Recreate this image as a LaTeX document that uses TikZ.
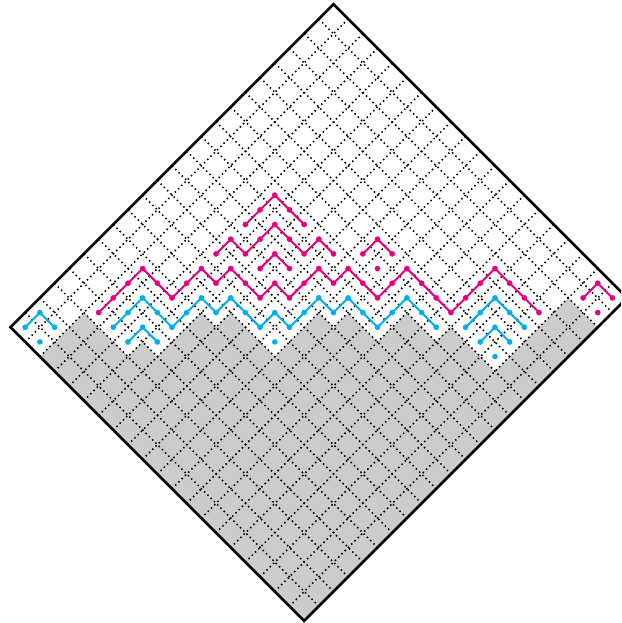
\documentclass[tikz,border=0pt]{standalone}
\definecolor{mag}{RGB}{230,0,126}
\definecolor{cya}{RGB}{0,174,239}
\definecolor{grayfill}{RGB}{204,204,204}
\tikzset{
  gridline/.style={line width=1.6pt, dash pattern=on 1.5pt off 3.1pt},
  frameline/.style={line width=2.6pt, line join=miter},
  magpath/.style={mag, line width=2pt, mark=*, mark size=2.6pt, mark options={line width=0.4pt}},
  cyapath/.style={cya, line width=2pt, mark=*, mark size=2.6pt, mark options={line width=0.4pt}},
}
\begin{document}
\begin{tikzpicture}
\useasboundingbox (0,0) rectangle (621pt,623pt);
\clip (0,0) rectangle (621pt,623pt);
\begin{scope}[shift={(333.5pt,618.7pt)}, x=14.68pt, y=-14.68pt]
% frozen (gray) region
\fill[grayfill] (-20,24) -- (-19,23) -- (-18,22) -- (-17,21) -- (-16,22) -- (-15,23) -- (-14,24) -- (-13,23) -- (-12,24) -- (-11,23) -- (-10,22) -- (-9,21) -- (-8,22) -- (-7,21) -- (-6,22) -- (-5,23) -- (-4,24) -- (-3,23) -- (-2,22) -- (-1,21) -- (0,22) -- (1,21) -- (2,22) -- (3,23) -- (4,22) -- (5,21) -- (6,22) -- (7,23) -- (8,22) -- (9,23) -- (10,24) -- (11,25) -- (12,24) -- (13,23) -- (14,22) -- (15,21) -- (16,20) -- (17,21) -- (18,22) -- (-2,42) -- cycle;
% dotted grid
\begin{scope}
\clip (0,0) -- (20,20) -- (-2,42) -- (-22,22) -- cycle;
\foreach \i in {1,...,21} \draw[gridline] (-\i,\i) -- ({20-\i},{20+\i});
\foreach \j in {1,...,19} \draw[gridline] (\j,\j) -- ({\j-22},{\j+22});
\end{scope}
% frame
\draw[frameline] (0,0) -- (20,20) -- (-2,42) -- (-22,22) -- cycle;
% magenta paths
\draw[magpath] plot coordinates {(-6,15) (-5,14) (-4,13) (-3,14) (-2,15)};
\draw[magpath] plot coordinates {(-8,17) (-7,16) (-6,17) (-5,16) (-4,15) (-3,16) (-2,17) (-1,16) (0,17)};
\draw[magpath] plot coordinates {(-5,18) (-4,17) (-3,18)};
\draw[magpath] plot coordinates {(2,17) (3,16) (4,17)};
\draw[magpath] plot coordinates {(-16,21) (-15,20) (-14,19) (-13,18) (-12,19) (-11,20) (-10,19) (-9,18) (-8,19) (-7,18) (-6,19) (-5,20) (-4,19) (-3,20) (-2,19) (-1,18) (0,19) (1,18) (2,19) (3,20) (4,19) (5,18) (6,19) (7,20) (8,21) (9,20) (10,19) (11,18) (12,19) (13,20) (14,21)};
\draw[magpath] plot coordinates {(17,20) (18,19) (19,20)};
\foreach \p in {(3,18),(18,21)} \fill[mag] \p circle (2.8pt);
% cyan paths
\draw[cyapath] plot coordinates {(-21,22) (-20,21) (-19,22)};
\draw[cyapath] plot coordinates {(-15,22) (-14,21) (-13,20) (-12,21) (-11,22) (-10,21) (-9,20) (-8,21) (-7,20) (-6,21) (-5,22) (-4,21) (-3,22) (-2,21) (-1,20) (0,21) (1,20) (2,21) (3,22) (4,21) (5,20) (6,21) (7,22)};
\draw[cyapath] plot coordinates {(-14,23) (-13,22) (-12,23)};
\draw[cyapath] plot coordinates {(9,22) (10,21) (11,20) (12,21) (13,22)};
\draw[cyapath] plot coordinates {(10,23) (11,22) (12,23)};
\foreach \p in {(-20,23),(-4,23),(11,24)} \fill[cya] \p circle (2.8pt);
\end{scope}
\end{tikzpicture}
\end{document}
